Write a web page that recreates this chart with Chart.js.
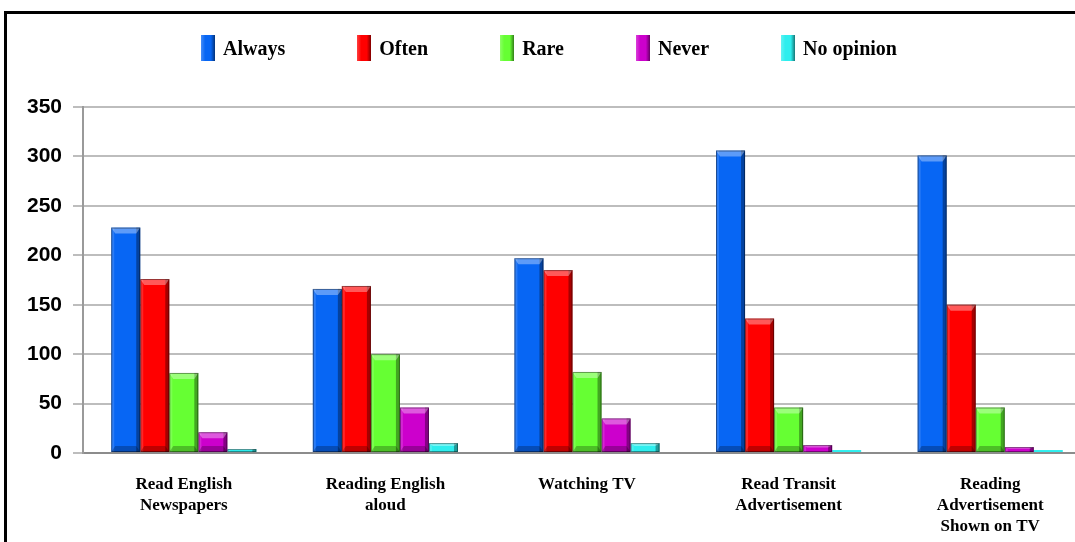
<!DOCTYPE html>
<html>
<head>
<meta charset="utf-8">
<script src="https://cdn.jsdelivr.net/npm/chart.js@4.4.1/dist/chart.umd.min.js"></script>
<style>
  html, body { margin: 0; padding: 0; background: #fff; overflow: hidden; }
  #frame { position: absolute; left: 4px; top: 11px; width: 1200px; height: 700px; border: 3px solid #000; box-sizing: border-box; }
  #wrap { position: absolute; left: 0; top: 0; width: 1100px; height: 542px; }
  #legend { position: absolute; left: 0; top: 35px; width: 1098px; display: flex; justify-content: center; gap: 72px;
            font: bold 20px "Liberation Serif", "Times New Roman", serif; color: #000; }
  .item { display: flex; align-items: center; gap: 8px; height: 26px; }
  .swatch { width: 14px; height: 26px; box-sizing: border-box; }
</style>
</head>
<body>
<div id="frame"></div>
<div id="wrap"><canvas id="chart" width="1100" height="542"></canvas></div>
<div id="legend"></div>
<script>
// categories and values
const categories = [
  ['Read English', 'Newspapers'],
  ['Reading English', 'aloud'],
  ['Watching TV'],
  ['Read Transit', 'Advertisement'],
  ['Reading', 'Advertisement', 'Shown on TV']
];
const seriesNames = ['Always', 'Often', 'Rare', 'Never', 'No opinion'];
const always    = [228, 166, 197, 306, 301];
const often     = [176, 169, 185, 136, 150];
const rare      = [81, 100, 82, 46, 46];
const never     = [21, 46, 35, 8, 6];
const noOpinion = [4, 10, 10, 3, 3];
const yTicks = [0, 50, 100, 150, 200, 250, 300, 350];

const colors = ['#0766F4', '#FF0000', '#66FF33', '#CC00CC', '#2EEEEE'];
const values = [always, often, rare, never, noOpinion];

// simple bevel look on the bars
const bevel = {
  id: 'bevel',
  afterDatasetsDraw(chart) {
    const ctx = chart.ctx;
    chart.data.datasets.forEach((ds, i) => {
      chart.getDatasetMeta(i).data.forEach(bar => {
        const { x, y, base, width } = bar.getProps(['x', 'y', 'base', 'width'], true);
        const l = x - width / 2, r = x + width / 2, h = base - y;
        if (h < 2) return;
        const cap = Math.min(6, h / 3);
        ctx.save();
        ctx.fillStyle = 'rgba(0,0,0,0.35)';
        ctx.fillRect(r - 4, y, 4, h);
        ctx.fillStyle = 'rgba(255,255,255,0.15)';
        ctx.fillRect(l, y, 3, h);
        ctx.fillStyle = 'rgba(255,255,255,0.35)';
        ctx.beginPath();
        ctx.moveTo(l, y); ctx.lineTo(r, y); ctx.lineTo(r - 4, y + cap); ctx.lineTo(l + 4, y + cap);
        ctx.closePath(); ctx.fill();
        if (h > 15) {
          ctx.fillStyle = 'rgba(0,0,0,0.25)';
          ctx.beginPath();
          ctx.moveTo(l, base); ctx.lineTo(r, base); ctx.lineTo(r - 4, base - cap); ctx.lineTo(l + 4, base - cap);
          ctx.closePath(); ctx.fill();
        }
        ctx.strokeStyle = 'rgba(0,0,0,0.4)';
        ctx.lineWidth = 1;
        ctx.strokeRect(l + 0.5, y + 0.5, width - 1, h - 1);
        ctx.restore();
      });
    });
  }
};

// legend as html
const legend = document.getElementById('legend');
seriesNames.forEach((name, i) => {
  const item = document.createElement('div');
  item.className = 'item';
  const sw = document.createElement('div');
  sw.className = 'swatch';
  sw.style.background = 'linear-gradient(to right, rgba(255,255,255,0.25), ' + colors[i] + ' 30%, ' + colors[i] + ' 70%, rgba(0,0,0,0.5))';
  sw.style.backgroundColor = colors[i];
  const label = document.createElement('span');
  label.textContent = name;
  item.appendChild(sw);
  item.appendChild(label);
  legend.appendChild(item);
});

new Chart(document.getElementById('chart'), {
  type: 'bar',
  data: {
    labels: categories,
    datasets: seriesNames.map((name, i) => ({
      label: name,
      data: values[i],
      backgroundColor: colors[i],
      borderWidth: 0,
      categoryPercentage: 0.72,
      barPercentage: 1.0
    }))
  },
  plugins: [bevel],
  options: {
    responsive: false,
    animation: false,
    layout: { padding: { top: 107, left: 5, right: 9, bottom: 0 } },
    plugins: {
      legend: { display: false },
      tooltip: { enabled: false }
    },
    scales: {
      x: {
        grid: { display: false, drawTicks: false },
        border: { color: '#8c8c8c', width: 2 },
        ticks: {
          padding: 21,
          color: '#000',
          font: { family: '"Liberation Serif", "Times New Roman", serif', size: 17, weight: 'bold', lineHeight: 1.24 }
        },
        afterFit(scale) { scale.height = 89; }
      },
      y: {
        min: 0,
        max: 350,
        afterBuildTicks(scale) { scale.ticks = yTicks.map(v => ({ value: v })); },
        grid: { color: '#bdbdbd', lineWidth: 2, tickLength: 10 },
        border: { color: '#9a9a9a', width: 2 },
        ticks: {
          padding: 11,
          color: '#000',
          font: { family: '"Liberation Sans", Arial, sans-serif', size: 21, weight: 'bold' }
        },
        afterFit(scale) { scale.width = 78; }
      }
    }
  }
});
</script>
</body>
</html>
